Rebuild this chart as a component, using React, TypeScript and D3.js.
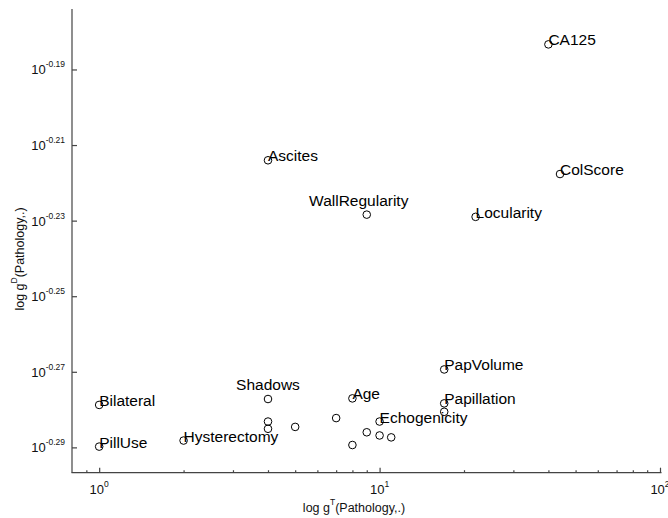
import React, { useEffect, useRef } from "react";
import * as d3 from "d3";

// variable names, T and D scores
const pointLabels = [
  "CA125", "ColScore", "Ascites", "WallRegularity", "Locularity",
  "PapVolume", "Papillation", "", "Bilateral", "PillUse",
  "Shadows", "", "", "", "Hysterectomy",
  "", "Age", "Echogenicity", "", "", "", "",
];
const xValues = [40, 44, 4, 9, 22, 17, 17, 17, 1, 1, 4, 4, 4, 5, 2, 7, 8, 10, 9, 10, 11, 8];
const yValues = [
  0.6556, 0.6058, 0.6109, 0.591, 0.5902,
  0.5378, 0.5268, 0.5241, 0.5263, 0.5131,
  0.5282, 0.521, 0.5187, 0.5193, 0.515,
  0.5221, 0.5284, 0.521, 0.5176, 0.5166, 0.516, 0.5136,
];

const xTickExponents = ["0", "1", "2"];
const yTickExponents = ["-0.19", "-0.21", "-0.23", "-0.25", "-0.27", "-0.29"];
const xMinorTicks = [0.9, 2, 3, 4, 5, 6, 7, 8, 9, 20, 30, 40, 50, 60, 70, 80, 90];

// labels that sit centred above their point instead of to the right
const labelsAbove = ["WallRegularity", "Shadows"];
const labelNudge: Record<string, number> = { WallRegularity: -8 };

const W = 668;
const H = 518;
const FONT = "'Liberation Sans', Arial, sans-serif";

export default function App() {
  const svgRef = useRef<SVGSVGElement>(null);

  useEffect(() => {
    if (!svgRef.current) return;
    const svg = d3.select(svgRef.current);
    svg.selectAll("*").remove();

    const m = { left: 72, right: 8, top: 9, bottom: 45.3 };

    const x = d3.scaleLog().domain([0.8, 100]).range([m.left, W - m.right]);
    const y = d3
      .scaleLog()
      .domain([Math.pow(10, -0.2967), Math.pow(10, -0.174)])
      .range([H - m.bottom, m.top]);

    const axisColor = "#444";

    // x axis
    const gx = svg.append("g").attr("transform", `translate(0,${H - m.bottom})`);
    gx.call(
      d3.axisBottom(x)
        .tickValues(xTickExponents.map((e) => Math.pow(10, +e)))
        .tickSizeInner(-5)
        .tickSizeOuter(0)
        .tickFormat(() => "")
    );
    gx.append("g").call(
      d3.axisBottom(x).tickValues(xMinorTicks).tickSizeInner(-2.5).tickSizeOuter(0).tickFormat(() => "")
    );
    gx.selectAll("g > path.domain").filter((_, i) => i > 0).remove();
    gx.selectAll("path, line").attr("stroke", axisColor).attr("stroke-width", 1.2);
    gx.selectAll("path.domain").attr("d", `M${m.left - 0.5},0H${W - m.right + 1.5}`);

    // y axis
    const gy = svg.append("g").attr("transform", `translate(${m.left},0)`);
    gy.call(
      d3.axisLeft(y)
        .tickValues(yTickExponents.map((e) => Math.pow(10, +e)))
        .tickSizeInner(-5)
        .tickSizeOuter(0)
        .tickFormat(() => "")
    );
    gy.selectAll("path, line").attr("stroke", axisColor).attr("stroke-width", 1.2);
    gy.select("path.domain").attr("d", `M0,${m.top}V${H - m.bottom}`);

    // tick labels 10^k
    const xl = svg
      .append("g")
      .selectAll("text")
      .data(xTickExponents)
      .join("text")
      .attr("x", (e) => x(Math.pow(10, +e)))
      .attr("y", 494)
      .attr("text-anchor", "middle")
      .attr("font-family", FONT)
      .attr("font-size", 13)
      .attr("fill", "#111");
    xl.append("tspan").text("10");
    xl.append("tspan").attr("dy", -7).attr("font-size", 8.5).text((e) => e);

    const yl = svg
      .append("g")
      .selectAll("text")
      .data(yTickExponents)
      .join("text")
      .attr("x", 65)
      .attr("y", (e) => y(Math.pow(10, +e)) + 5)
      .attr("text-anchor", "end")
      .attr("font-family", FONT)
      .attr("font-size", 13)
      .attr("fill", "#111");
    yl.append("tspan").text("10");
    yl.append("tspan").attr("dy", -7).attr("font-size", 8.5).text((e) => e);

    // axis titles
    const xt = svg
      .append("text")
      .attr("x", 354)
      .attr("y", 511.5)
      .attr("text-anchor", "middle")
      .attr("font-family", FONT)
      .attr("font-size", 12.5)
      .attr("fill", "#111");
    xt.append("tspan").text("log g");
    xt.append("tspan").attr("dy", -7).attr("font-size", 8.5).text("T");
    xt.append("tspan").attr("dy", 7).text("(Pathology,.)");

    const yt = svg
      .append("text")
      .attr("transform", "translate(24,259) rotate(-90)")
      .attr("text-anchor", "middle")
      .attr("font-family", FONT)
      .attr("font-size", 12.5)
      .attr("fill", "#111");
    yt.append("tspan").text("log g");
    yt.append("tspan").attr("dy", -7).attr("font-size", 8.5).text("D");
    yt.append("tspan").attr("dy", 7).text("(Pathology,.)");

    const pts = pointLabels.map((label, i) => ({ label, x: xValues[i], y: yValues[i] }));

    // points
    svg
      .append("g")
      .selectAll("circle")
      .data(pts)
      .join("circle")
      .attr("cx", (d) => x(d.x))
      .attr("cy", (d) => y(d.y))
      .attr("r", 3.8)
      .attr("fill", "none")
      .attr("stroke", "#000")
      .attr("stroke-width", 1);

    // labels
    svg
      .append("g")
      .selectAll("text")
      .data(pts.filter((d) => d.label))
      .join("text")
      .attr("x", (d) => x(d.x) + (labelNudge[d.label] || 0))
      .attr("y", (d) => (labelsAbove.includes(d.label) ? y(d.y) - 9 : y(d.y) + 1))
      .attr("text-anchor", (d) => (labelsAbove.includes(d.label) ? "middle" : "start"))
      .attr("font-family", FONT)
      .attr("font-size", 15.5)
      .attr("fill", "#000")
      .text((d) => d.label);
  }, []);

  return (
    <svg
      ref={svgRef}
      width={W}
      height={H}
      style={{ position: "absolute", left: 0, top: 0, background: "#fff" }}
    />
  );
}
